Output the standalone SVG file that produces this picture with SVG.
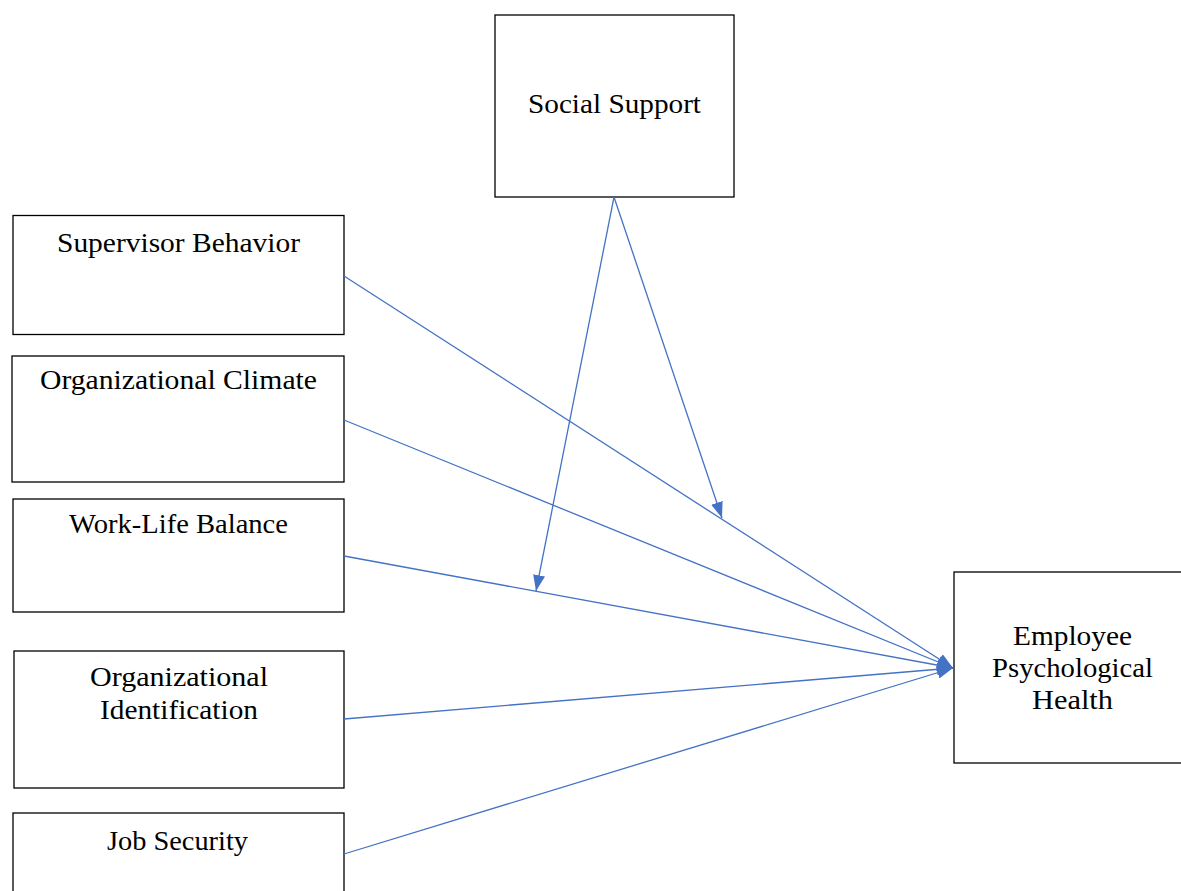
<svg xmlns="http://www.w3.org/2000/svg" width="1181" height="891" viewBox="0 0 1181 891">
<style>
.box{fill:#fff;stroke:#000;stroke-width:1.3}
.t{font-family:"Liberation Serif","Times New Roman",serif;font-size:27px;fill:#000;text-anchor:middle}
.c{stroke:#4472C4;stroke-width:1.3;fill:none}
</style>
<defs>
<marker id="ah" viewBox="0 0 16 12" refX="16" refY="6" markerWidth="16" markerHeight="12" markerUnits="userSpaceOnUse" orient="auto">
<path d="M0,0 L16,6 L0,12 Z" fill="#4472C4"/>
</marker>
</defs>
<rect width="1181" height="891" fill="#fff"/>
<g id="social-support"><rect class="box" x="495" y="15" width="239" height="182"/><text class="t" x="614.5" y="113" textLength="173" lengthAdjust="spacingAndGlyphs">Social Support</text></g>
<g id="supervisor-behavior"><rect class="box" x="13" y="215.5" width="331" height="119"/><text class="t" x="178.5" y="252" textLength="243" lengthAdjust="spacingAndGlyphs">Supervisor Behavior</text></g>
<g id="organizational-climate"><rect class="box" x="12" y="356" width="332" height="126"/><text class="t" x="178.5" y="389" textLength="277" lengthAdjust="spacingAndGlyphs">Organizational Climate</text></g>
<g id="work-life-balance"><rect class="box" x="13" y="499" width="331" height="113"/><text class="t" x="178.5" y="533" textLength="219" lengthAdjust="spacingAndGlyphs">Work-Life Balance</text></g>
<g id="organizational-identification"><rect class="box" x="14" y="651" width="330" height="137"/><text class="t" x="179" y="686" textLength="178" lengthAdjust="spacingAndGlyphs">Organizational</text><text class="t" x="179" y="719" textLength="158" lengthAdjust="spacingAndGlyphs">Identification</text></g>
<g id="job-security"><rect class="box" x="13" y="813" width="331" height="90"/><text class="t" x="177.5" y="850" textLength="141" lengthAdjust="spacingAndGlyphs">Job Security</text></g>
<g id="employee-psychological-health"><rect class="box" x="954" y="572" width="240" height="191"/><text class="t" x="1072.5" y="645" textLength="119" lengthAdjust="spacingAndGlyphs">Employee</text><text class="t" x="1072.5" y="677" textLength="161" lengthAdjust="spacingAndGlyphs">Psychological</text><text class="t" x="1072.5" y="709" textLength="81" lengthAdjust="spacingAndGlyphs">Health</text></g>
<g id="connectors">
<line class="c" x1="344" y1="276" x2="953" y2="668" marker-end="url(#ah)"/>
<line class="c" x1="344" y1="420" x2="953" y2="668" marker-end="url(#ah)"/>
<line class="c" x1="344" y1="556" x2="953" y2="668" marker-end="url(#ah)"/>
<line class="c" x1="344" y1="719" x2="953" y2="668" marker-end="url(#ah)"/>
<line class="c" x1="344" y1="854" x2="953" y2="668" marker-end="url(#ah)"/>
<line class="c" x1="614" y1="197" x2="722" y2="518" marker-end="url(#ah)"/>
<line class="c" x1="614" y1="197" x2="536" y2="591" marker-end="url(#ah)"/>
</g>
</svg>
